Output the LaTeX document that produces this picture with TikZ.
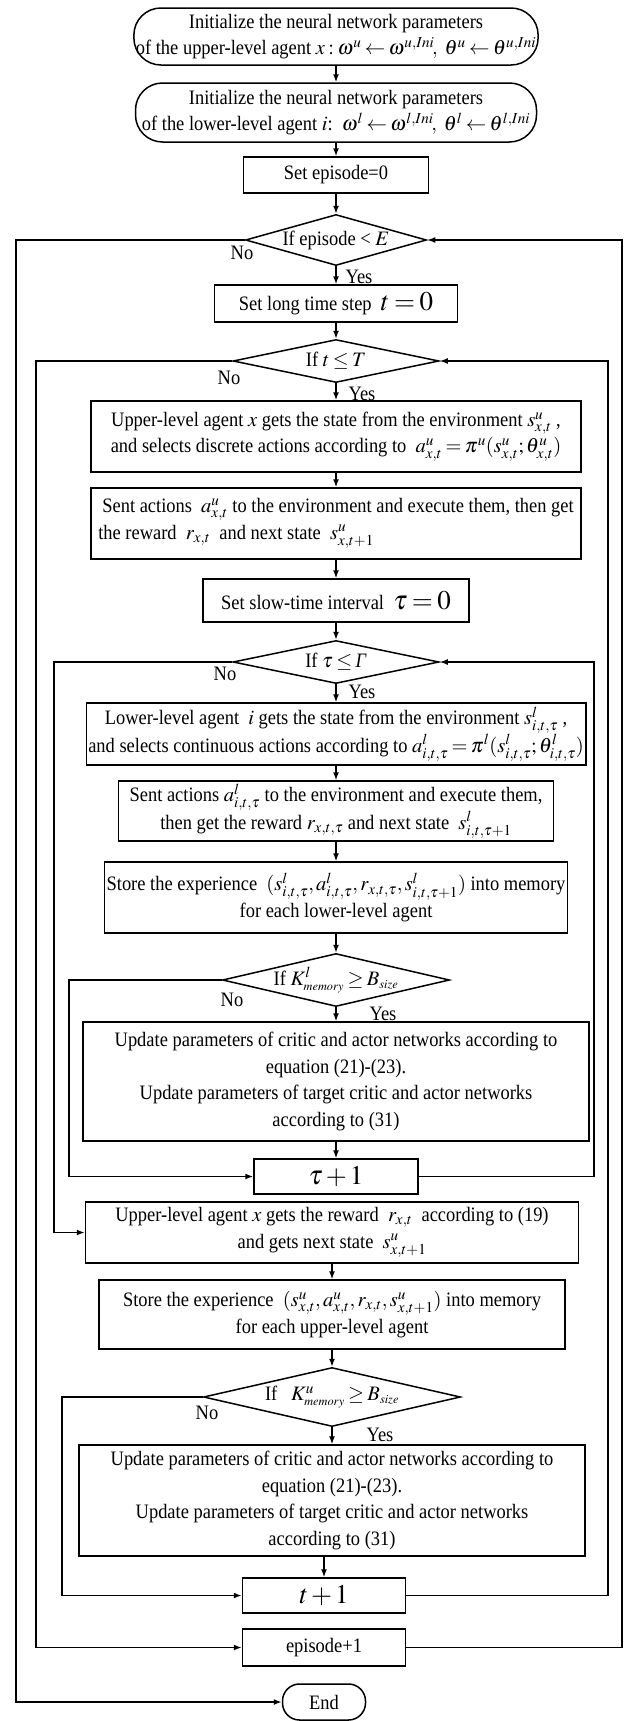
\documentclass[tikz,border=0pt]{standalone}
\usepackage{mathptmx}
\usepackage{fontspec}
\setmainfont{Liberation Serif}[FakeStretch=0.9]
\usetikzlibrary{arrows.meta,shapes.geometric,calc}
\newcommand{\bigmath}[1]{{\fontsize{27}{27}\selectfont$#1$}}
\newcommand{\zw}[1]{\makebox[0pt][c]{#1}}
\newcommand{\tightmath}{\thickmuskip=3mu plus 1mu\medmuskip=2mu plus 1mu}
\tikzset{
  base/.style={font=\fontsize{20.5}{26.5}\selectfont\tightmath, line width=1.5pt, inner sep=2pt},
  box/.style={base, draw, rectangle, align=center},
  rbox/.style={base, draw, rectangle, rounded corners=27pt, align=center},
  dia/.style={base, draw, diamond, inner sep=0pt},
  lbl/.style={font=\fontsize{20.5}{24}\selectfont, inner sep=0pt},
  conn/.style={line width=1.5pt, -{Latex[length=8pt,width=6pt]}},
}
\begin{document}
\begin{tikzpicture}[x=1pt,y=-1pt]
\useasboundingbox (0,0) rectangle (626,1721);
% rails
\coordinate (r1L) at (16,0);
\coordinate (r1R) at (622,0);
\coordinate (r2L) at (36,0);
\coordinate (r2R) at (608,0);
\coordinate (r3L) at (54,0);
\coordinate (r3R) at (594,0);
\coordinate (r4L) at (69,0);
\coordinate (r5L) at (62,0);

\node[rbox, minimum width=401pt, minimum height=57pt] (b1) at (336,36.5)
 {Initialize the neural network parameters\\ of the upper-level agent\ $x:\omega^{u}\leftarrow\omega^{u,Ini}\!,\ \theta^{u}\leftarrow\theta^{u,Ini}$};
\node[rbox, minimum width=401pt, minimum height=59pt] (b2) at (336,112.5)
 {Initialize the neural network parameters\\ of the lower-level agent $i$:\ \ $\omega^{l}\leftarrow\omega^{l,Ini}\!,\ \theta^{l}\leftarrow\theta^{l,Ini}$};
\node[box, minimum width=185pt, minimum height=36pt] (b3) at (336,175) {Set episode=0};
\node[dia, minimum width=181pt, minimum height=51pt] (d1) at (336,240) {\zw{If episode < $E$}};
\node[box, minimum width=243pt, minimum height=37pt] (b4) at (336,303.5) {Set long time step\ \ \bigmath{t=0}};
\node[dia, minimum width=206pt, minimum height=43pt] (d2) at (336,361) {\zw{If $t\le T$}};
\node[box, minimum width=490pt, minimum height=71pt] (b5) at (336,436.5)
 {Upper-level agent $x$ gets the state from the environment $s^{u}_{x,t}$ ,\\ and selects discrete actions according to\ \ $a^{u}_{x,t}=\pi^{u}(s^{u}_{x,t};\theta^{u}_{x,t})$};
\node[box, align=left, minimum width=490pt, minimum height=71pt] (b6) at (336,523.5)
 {\hspace*{4pt}Sent actions\ \ $a^{u}_{x,t}$ to the environment and execute them, then get\\ the reward\ \ $r_{x,t}$\ \ and next state\ \ $s^{u}_{x,t+1}$};
\node[box, minimum width=266pt, minimum height=43pt] (b7) at (336,600.5) {Set slow-time interval\ \ \bigmath{\tau=0}};
\node[dia, minimum width=206pt, minimum height=43pt] (d3) at (336,662) {\zw{If $\tau\le$\,\textit{Γ}}};
\node[box, minimum width=490pt, minimum height=62pt] (b8) at (336,734)
 {Lower-level agent\ \ $i$\ gets the state from the environment\ $s^{l}_{i,t,\tau}$ ,\\ and selects continuous actions according to $a^{l}_{i,t,\tau}=\pi^{l}(s^{l}_{i,t,\tau};\theta^{l}_{i,t,\tau})$};
\node[box, minimum width=435pt, minimum height=60pt] (b9) at (336,811)
 {Sent actions $a^{l}_{i,t,\tau}$ to the environment and execute them,\\ then get the reward\ $r_{x,t,\tau}$ and next state\ \ $s^{l}_{i,t,\tau+1}$};
\node[box, minimum width=435pt, minimum height=71pt] (b10) at (336,897.5)
 {Store the experience\ \ $(s^{l}_{i,t,\tau},a^{l}_{i,t,\tau},r_{x,t,\tau},s^{l}_{i,t,\tau+1})$ into memory\\ for each lower-level agent};
\node[dia, minimum width=227pt, minimum height=53pt] (d4) at (336,980) {\zw{If $K^{l}_{\scriptscriptstyle memory}\ge B_{\scriptscriptstyle size}$}};
\node[box, minimum width=506pt, minimum height=119pt] (b11) at (336,1081.5)
 {Update parameters of critic and actor networks according to\\ equation (21)-(23).\\ Update parameters of target critic and actor networks\\ according to (31)};
\node[box, minimum width=164pt, minimum height=35pt] (b12) at (336,1176.5) {\bigmath{\tau+1}};
\node[box, minimum width=493pt, minimum height=61pt] (b13) at (332,1232.5)
 {Upper-level agent $x$ gets the reward\ \ $r_{x,t}$\ \ according to (19)\\ and gets next state\ \ $s^{u}_{x,t+1}$};
\node[box, minimum width=466pt, minimum height=69pt] (b14) at (332,1314.5)
 {Store the experience\ \ $(s^{u}_{x,t},a^{u}_{x,t},r_{x,t},s^{u}_{x,t+1})$ into memory\\ for each upper-level agent};
\node[dia, minimum width=257pt, minimum height=59pt] (d5) at (332,1397) {\zw{If\ \ \ $K^{u}_{\scriptscriptstyle memory}\ge B_{\scriptscriptstyle size}$}};
\node[box, minimum width=506pt, minimum height=111pt] (b15) at (332,1500.5)
 {Update parameters of critic and actor networks according to\\ equation (21)-(23).\\ Update parameters of target critic and actor networks\\ according to (31)};
\node[box, minimum width=163pt, minimum height=35pt] (b16) at (324,1595.5) {\bigmath{t+1}};
\node[box, minimum width=163pt, minimum height=37pt] (b17) at (324,1647.5) {episode+1};
\node[rbox, rounded corners=17pt, minimum width=83pt, minimum height=36pt] (end) at (324,1702) {End};

% labels
\node[lbl] (n1) at (242,253) {No};
\node[lbl] (y1) at (359,277) {Yes};
\node[lbl] (n2) at (229,378) {No};
\node[lbl] (y2) at (362,394) {Yes};
\node[lbl] (n3) at (225,674) {No};
\node[lbl] (y3) at (362,692) {Yes};
\node[lbl] (n4) at (232,1000) {No};
\node[lbl] (y4) at (383,1014) {Yes};
\node[lbl] (n5) at (207,1413) {No};
\node[lbl] (y5) at (380,1435) {Yes};

% main flow
\draw[conn] (b1) -- (b2);
\draw[conn] (b2) -- (b3);
\draw[conn] (b3) -- (d1);
\draw[conn] (d1) -- (b4);
\draw[conn] (b4) -- (d2);
\draw[conn] (d2) -- (b5);
\draw[conn] (b5) -- (b6);
\draw[conn] (b6) -- (b7);
\draw[conn] (b7) -- (d3);
\draw[conn] (d3) -- (b8);
\draw[conn] (b8) -- (b9);
\draw[conn] (b9) -- (b10);
\draw[conn] (b10) -- (d4);
\draw[conn] (d4) -- (b11);
\draw[conn] (b11) -- (b12);
\draw[conn] (b13) -- (b14);
\draw[conn] (b14) -- (d5);
\draw[conn] (d5) -- (b15);
\draw[conn] (b15.south -| b16.north) -- (b16.north);

% loops
\draw[conn] (d1.west) -- (d1.west -| r1L) |- (end.west);
\draw[conn] (b17.east) -- (b17.east -| r1R) |- (d1.east);
\draw[conn] (d2.west) -- (d2.west -| r2L) |- (b17.west);
\draw[conn] (b16.east) -- (b16.east -| r2R) |- (d2.east);
\draw[conn] (d3.west) -- (d3.west -| r3L) |- (b13.west);
\draw[conn] (b12.east) -- (b12.east -| r3R) |- (d3.east);
\draw[conn] (d4.west) -- (d4.west -| r4L) |- (b12.west);
\draw[conn] (d5.west) -- (d5.west -| r5L) |- (b16.west);
\end{tikzpicture}
\end{document}
